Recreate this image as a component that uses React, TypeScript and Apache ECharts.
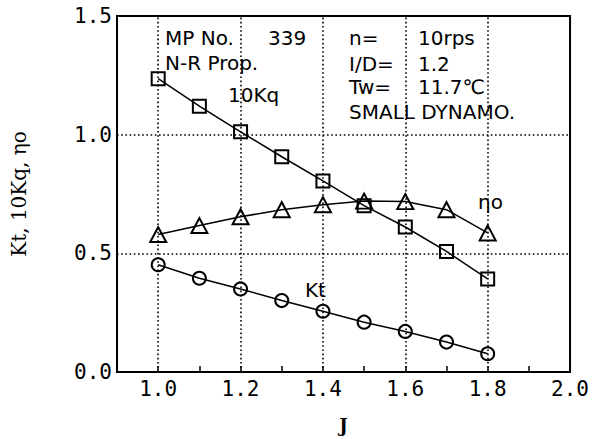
import React, { useEffect, useRef } from "react";
import * as echarts from "echarts";

// Advance ratio J
const J = [1.0, 1.1, 1.2, 1.3, 1.4, 1.5, 1.6, 1.7, 1.8];
// Thrust coefficient Kt
const KT = [0.452, 0.395, 0.35, 0.301, 0.256, 0.21, 0.171, 0.126, 0.077];
// 10 x torque coefficient
const KQ10 = [1.236, 1.12, 1.012, 0.907, 0.805, 0.701, 0.611, 0.508, 0.392];
// Open-water efficiency
const ETA = [0.579, 0.617, 0.654, 0.684, 0.705, 0.72, 0.718, 0.684, 0.586];

// dotted grid positions
const GRID_X = [1.0, 1.2, 1.4, 1.6, 1.8];
const GRID_Y = [0.5, 1.0];

const SANS = "DejaVu Sans";
const MONO = "DejaVu Sans Mono";
const SERIF = "DejaVu Serif";

const NOTES: { text: string; x: number; y: number }[] = [
  { text: "MP No.", x: 165, y: 38 },
  { text: "339", x: 268, y: 38 },
  { text: "N-R Prop.", x: 165, y: 63 },
  { text: "n=", x: 349, y: 38 },
  { text: "10rps", x: 418, y: 38 },
  { text: "I/D=", x: 349, y: 64 },
  { text: "1.2", x: 418, y: 64 },
  { text: "Tw=", x: 349, y: 87 },
  { text: "11.7℃", x: 418, y: 87 },
  { text: "SMALL DYNAMO.", x: 349, y: 112 },
  { text: "10Kq", x: 228, y: 95 },
  { text: "ηo", x: 478, y: 202 },
  { text: "Kt", x: 305, y: 290 },
];

export default function App() {
  const ref = useRef<HTMLDivElement>(null);
  useEffect(() => {
    if (!ref.current) return;
    const chart = echarts.init(ref.current, null, { renderer: "svg" });
    const markerStyle = {
      color: "rgba(0,0,0,0)",
      borderColor: "#000",
      borderWidth: 2,
    };
    const lineStyle = { color: "#000", width: 1.5 };
    const dotted = { color: "#000", width: 1.6, type: [1.6, 2.6] as any };
    chart.setOption({
      animation: false,
      backgroundColor: "#fff",
      grid: {
        left: 117,
        top: 16,
        right: 20,
        bottom: 66,
        show: true,
        borderColor: "#000",
        borderWidth: 2,
        containLabel: false,
      },
      xAxis: {
        type: "value",
        min: 0.9,
        max: 2.0,
        interval: 0.1,
        name: "J",
        nameLocation: "middle",
        nameGap: 44,
        nameTextStyle: {
          fontFamily: SERIF,
          fontSize: 18,
          fontWeight: "bold",
          color: "#000",
        },
        axisLine: { show: true, lineStyle: { color: "#000", width: 2 } },
        axisTick: {
          show: true,
          inside: true,
          length: 6,
          lineStyle: { color: "#000", width: 1.5 },
        },
        splitLine: { show: false },
        axisLabel: {
          margin: 6,
          fontFamily: MONO,
          fontSize: 21,
          color: "#000",
          formatter: (v: number) =>
            Math.round(v * 10) % 2 === 0 ? v.toFixed(1) : "",
        },
      },
      yAxis: {
        type: "value",
        min: 0,
        max: 1.5,
        interval: 0.5,
        name: "Kt, 10Kq, ηo",
        nameLocation: "middle",
        nameRotate: 90,
        nameGap: 88,
        nameTextStyle: {
          fontFamily: SERIF,
          fontSize: 20,
          color: "#000",
        },
        axisLine: { show: true, lineStyle: { color: "#000", width: 2 } },
        axisTick: { show: false },
        splitLine: { show: false },
        axisLabel: {
          margin: 5,
          fontFamily: MONO,
          fontSize: 21,
          color: "#000",
          formatter: (v: number) => v.toFixed(1),
        },
      },
      series: [
        {
          name: "10Kq",
          type: "line",
          data: J.map((j, i) => [j, KQ10[i]]),
          symbol: "rect",
          symbolSize: 13,
          showAllSymbol: true,
          lineStyle,
          itemStyle: markerStyle,
          z: 3,
          markLine: {
            silent: true,
            symbol: "none",
            label: { show: false },
            lineStyle: dotted,
            data: [
              ...GRID_X.map((x) => ({ xAxis: x })),
              ...GRID_Y.map((y) => ({ yAxis: y })),
            ],
            z: 1,
          },
        },
        {
          name: "ηo",
          type: "line",
          data: J.map((j, i) => [j, ETA[i]]),
          symbol: "triangle",
          symbolSize: [16, 15],
          showAllSymbol: true,
          lineStyle,
          itemStyle: markerStyle,
          z: 3,
        },
        {
          name: "Kt",
          type: "line",
          data: J.map((j, i) => [j, KT[i]]),
          symbol: "circle",
          symbolSize: 13,
          showAllSymbol: true,
          lineStyle,
          itemStyle: markerStyle,
          z: 3,
        },
      ],
      graphic: NOTES.map((n) => ({
        type: "text",
        x: n.x,
        y: n.y,
        silent: true,
        style: {
          text: n.text,
          fontFamily: SANS,
          fontSize: 20,
          fill: "#000",
          align: "left",
          verticalAlign: "middle",
        },
      })),
    });
    return () => chart.dispose();
  }, []);
  return (
    <div
      ref={ref}
      style={{ position: "absolute", left: 0, top: 0, width: 592, height: 439 }}
    />
  );
}
